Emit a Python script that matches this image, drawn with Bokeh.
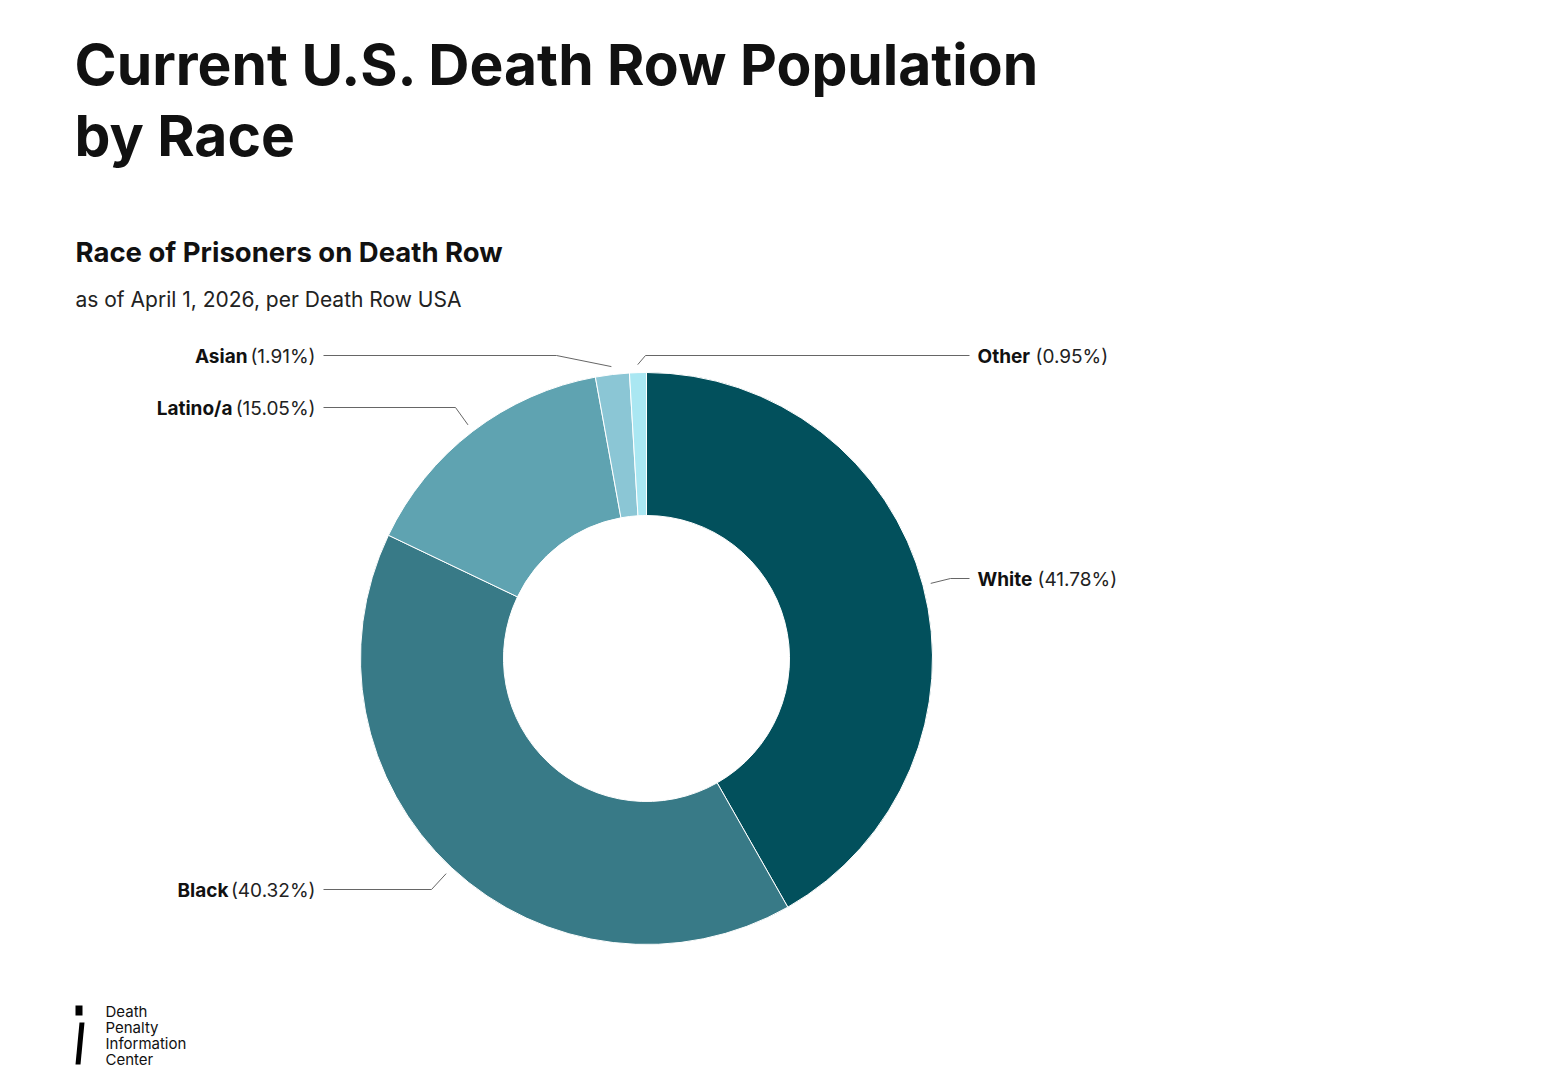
import numpy as np
from bokeh.plotting import figure
from bokeh.models import Range1d, ColumnDataSource
from bokeh.embed import file_html
from bokeh.resources import INLINE
from bokeh.core.properties import value

# ---- data ----
categories = ["White", "Black", "Latino/a", "Asian", "Other"]
shares = [41.78, 40.32, 15.05, 1.91, 0.95]
colors = ["#02505c", "#387a87", "#5fa3b1", "#8bc6d5", "#aae7f2"]

title_lines = ["Current U.S. Death Row Population", "by Race"]
subtitle = "Race of Prisoners on Death Row"
note = "as of April 1, 2026, per Death Row USA"
logo_lines = ["Death", "Penalty", "Information", "Center"]

# ---- layout (pixel positions, y measured from top) ----
W, H = 1565, 1080
CX, CY = 646, 658
R_IN, R_OUT = 143, 286
R_LEAD = 294
# per category: side, label y, elbow x, name x, pct x
side = ["right", "left", "left", "left", "right"]
label_y = [578, 889, 407, 355, 355]
elbow_x = [950, 431, 455, 556, 645]
name_x = [977, 228, 232, 247, 977]
pct_x = [1037, 315, 315, 315, 1035]

FONT = "Inter"
LBL = "19px"


def Y(py):
    return H - py


p = figure(width=W, height=H, x_range=Range1d(0, W), y_range=Range1d(0, H),
           output_backend="svg", toolbar_location=None, min_border=0)
p.axis.visible = False
p.grid.visible = False
p.outline_line_color = None
p.background_fill_color = "white"
p.border_fill_color = "white"

frac = np.array(shares) / sum(shares)
cum = np.concatenate([[0.0], np.cumsum(frac)])
a_start = np.pi / 2 - 2 * np.pi * cum[:-1]
a_end = np.pi / 2 - 2 * np.pi * cum[1:]

src = ColumnDataSource(dict(start=a_end, end=a_start, color=colors, cat=categories))
p.annular_wedge(x=CX, y=Y(CY), inner_radius=R_IN, outer_radius=R_OUT,
                start_angle="start", end_angle="end", fill_color="color",
                line_color="white", line_width=1, source=src)

# leader lines & labels
mid = (a_start + a_end) / 2
for i, cat in enumerate(categories):
    ex = CX + R_LEAD * np.cos(mid[i])
    ey = Y(CY) + R_LEAD * np.sin(mid[i])
    ly = Y(label_y[i])
    line_end = 969 if side[i] == "right" else 323
    p.line([ex, elbow_x[i], line_end], [ey, ly, ly], line_color="#666666", line_width=1)
    pct = f"({shares[i]:.2f}%)"
    align = "left" if side[i] == "right" else "right"
    p.text([name_x[i]], [ly - 1], text=[cat], text_font=value(FONT), text_font_style="bold",
           text_font_size=LBL, text_color="#111111", text_align=align, text_baseline="middle")
    p.text([pct_x[i]], [ly - 1], text=[pct], text_font=value(FONT), text_font_size=LBL,
           text_color="#222222", text_align=align, text_baseline="middle")

# titles
p.text([74, 74], [Y(64), Y(135)], text=title_lines, text_font=value(FONT), text_font_style="bold",
       text_font_size="57px", text_color="#111111", text_align="left", text_baseline="middle")
p.text([75], [Y(251)], text=[subtitle], text_font=value(FONT), text_font_style="bold",
       text_font_size="27.5px", text_color="#111111", text_align="left", text_baseline="middle")
p.text([75], [Y(299)], text=[note], text_font=value(FONT),
       text_font_size="21px", text_color="#222222", text_align="left", text_baseline="middle")

# logo
p.quad(left=[75], right=[82], top=[Y(1005)], bottom=[Y(1015)], fill_color="black", line_color=None)
p.patch([79, 84, 80, 75], [Y(1022), Y(1022), Y(1064), Y(1064)], fill_color="black", line_color=None)
p.text([105] * 4, [Y(1011), Y(1027), Y(1043), Y(1059)], text=logo_lines, text_font=value(FONT),
       text_font_size="15px", text_color="#111111", text_align="left", text_baseline="middle")

open("out.html", "w").write(file_html(p, INLINE))
